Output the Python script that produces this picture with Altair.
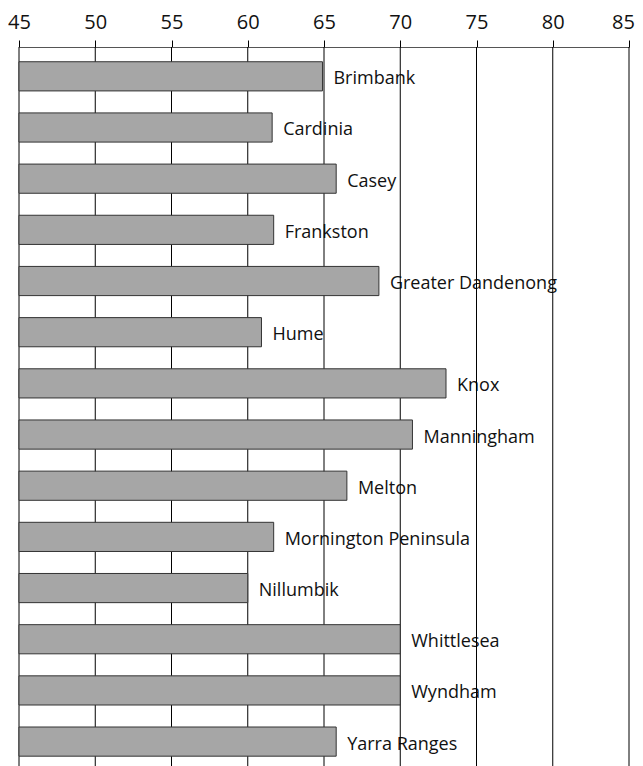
import altair as alt
import pandas as pd

councils = ["Brimbank", "Cardinia", "Casey", "Frankston", "Greater Dandenong",
            "Hume", "Knox", "Manningham", "Melton", "Mornington Peninsula",
            "Nillumbik", "Whittlesea", "Wyndham", "Yarra Ranges"]
values = [64.9, 61.6, 65.8, 61.7, 68.6, 60.9, 73.0, 70.8, 66.5, 61.7, 60.0, 70.0, 70.0, 65.8]
tick_values = [45, 50, 55, 60, 65, 70, 75, 80, 85]

df = pd.DataFrame({"council": councils, "value": values})
grid_df = pd.DataFrame({"tick": tick_values})

FONT = "Open Sans"
H = 719

xscale = alt.Scale(domain=[45, 85], zero=False, nice=False)
yscale = alt.Scale(domain=councils, paddingInner=0.43, paddingOuter=0.24, align=0.6)

y_enc = alt.Y("council:N", sort=None, scale=yscale, axis=None)

text = alt.Chart(df).mark_text(
    align="left", baseline="middle", dx=11, dy=3, font=FONT, fontSize=18, color="#111"
).encode(
    x=alt.X("value:Q", scale=xscale,
            axis=alt.Axis(orient="top", values=tick_values, grid=False, tickSize=7,
                          tickColor="#000", domainColor="#555", labelFont=FONT,
                          labelFontSize=20, labelColor="#111", labelPadding=8,
                          labelOffset=alt.expr("datum.value == 85 ? -6 : 0"),
                          title=None, labelFlush=False)),
    y=y_enc,
    text="council:N",
)

grid = alt.Chart(grid_df).mark_rule(color="#000", strokeWidth=1).encode(
    x=alt.X("tick:Q", scale=xscale),
    y=alt.value(0),
    y2=alt.value(H),
)

bars = alt.Chart(df).mark_bar(color="#a6a6a6", stroke="#333", strokeWidth=1).encode(
    x=alt.X("value:Q", scale=xscale),
    x2=alt.datum(45),
    y=y_enc,
)

chart = alt.layer(text, grid, bars).properties(
    width=610, height=H,
    autosize=alt.AutoSizeParams(type="none"),
    padding={"left": 11, "top": 39, "right": 6, "bottom": 0},
).configure_view(stroke=None)

chart.save("out.html", embed_options={"renderer": "svg", "actions": False})
